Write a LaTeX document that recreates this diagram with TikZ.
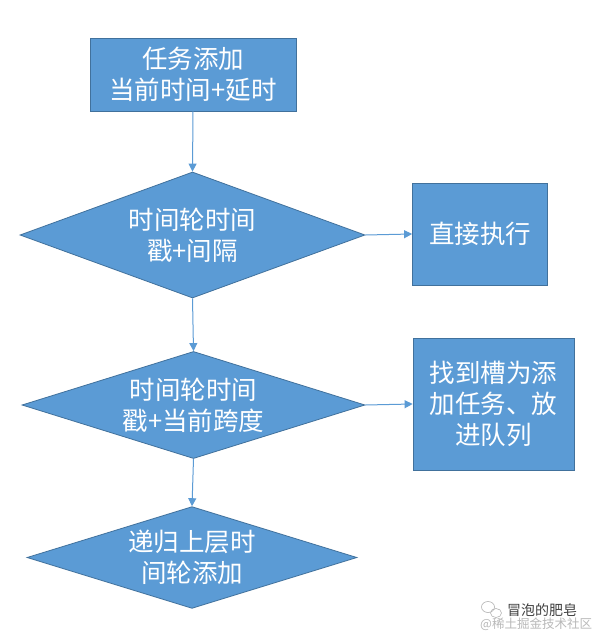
\documentclass[tikz,border=0pt]{standalone}
\usepackage{fontspec}
\setmainfont{Noto Sans CJK SC}
\newfontfamily\cjk{Noto Sans CJK SC}
\usetikzlibrary{shapes.geometric,arrows.meta}
\definecolor{officeblue}{HTML}{5B9BD5}
\definecolor{officeedge}{HTML}{41719C}
\tikzset{
  base/.style={fill=officeblue, draw=officeedge, line width=0.8pt, text=white, inner sep=0pt, align=center, font=\cjk\fontsize{25.5}{31}\selectfont},
  procbox/.style={base, rectangle},
  decide/.style={base, diamond, aspect=2.7},
  link/.style={draw=officeblue, line width=1pt, -{Triangle[length=8pt,width=8pt]}},
}
\begin{document}
\begin{tikzpicture}[x=1pt,y=-1pt]
\path[use as bounding box, fill=white] (0,0) rectangle (598,637);
\node[procbox, minimum width=206pt, minimum height=73pt] (add) at (193,74.5) {任务添加\\当前时间+延时};
\node[decide, minimum width=345pt, minimum height=126pt] (d1) at (192.5,235) {时间轮时间\\戳+间隔};
\node[procbox, minimum width=135pt, minimum height=102pt] (exec) at (480,234) {直接执行};
\node[decide, minimum width=343pt, minimum height=106pt] (d2) at (193.5,405) {时间轮时间\\戳+当前跨度};
\node[procbox, minimum width=161pt, minimum height=132pt] (slot) at (493.5,404) {找到槽为添\\加任务、放\\进队列};
\node[decide, minimum width=330pt, minimum height=93pt] (d3) at (192,557.5) {递归上层时\\间轮添加};
\draw[link] (add.south) -- (d1.north);
\draw[link] (d1.east) -- (exec.west);
\draw[link] (d1.south) -- (d2.north);
\draw[link] (d2.east) -- (slot.west);
\draw[link] (d2.south) -- (d3.north);
% watermark
\node[draw=gray!60, ellipse, minimum width=13pt, minimum height=11pt, inner sep=0pt, line width=0.6pt] (wc1) at (488,607) {};
\node[draw=gray!60, ellipse, minimum width=11pt, minimum height=9pt, inner sep=0pt, line width=0.6pt] (wc2) at (496,613) {};
\node[text=black!75, font=\cjk\fontsize{14}{16}\selectfont, anchor=west, inner sep=0pt] (wm1) at (507,610) {冒泡的肥皂};
\node[text=gray!55, font=\cjk\fontsize{12.5}{14}\selectfont, anchor=west, inner sep=0pt] (wm2) at (480,624) {@稀土掘金技术社区};
\end{tikzpicture}
\end{document}
